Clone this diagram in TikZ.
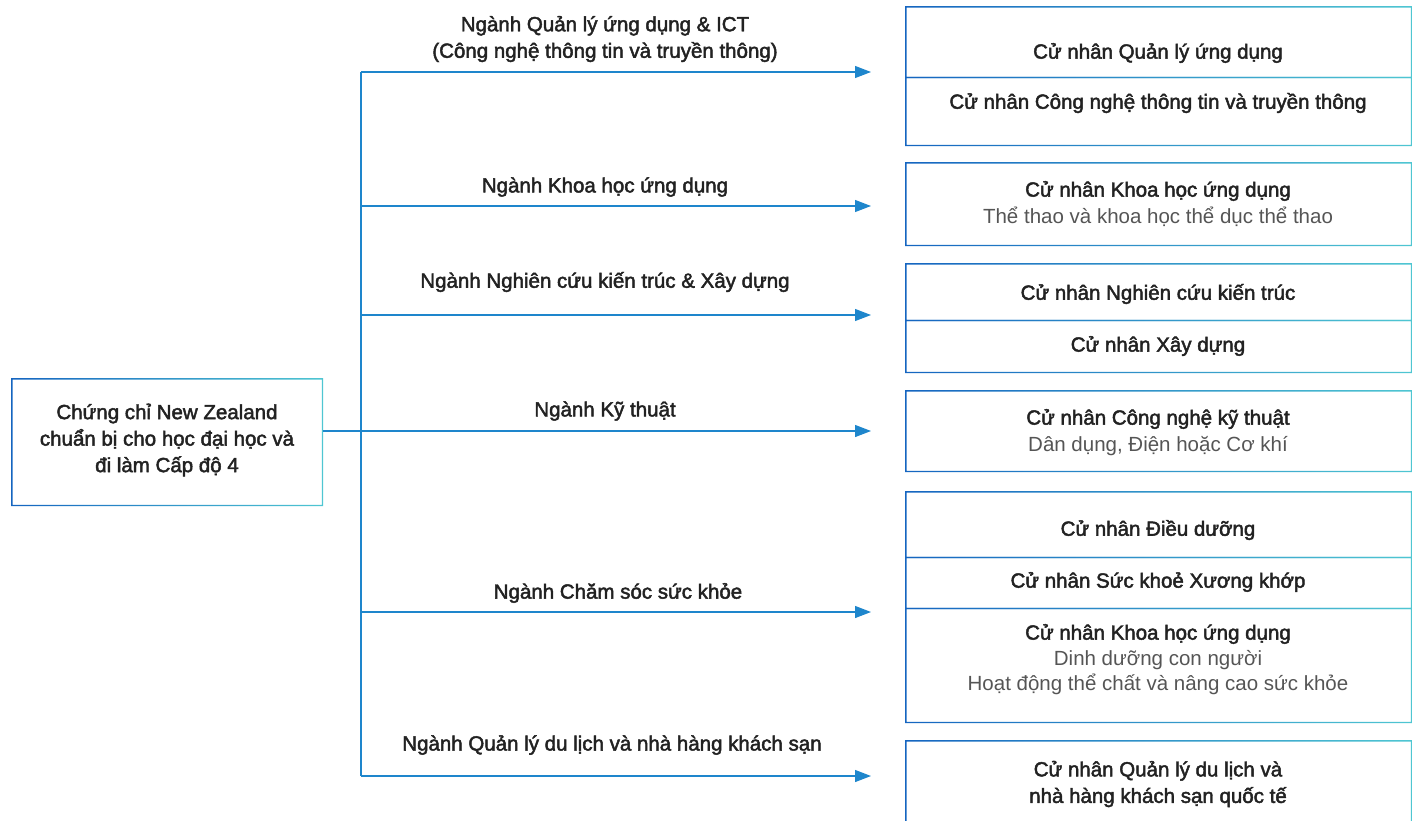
\documentclass[tikz,border=0pt]{standalone}
\usepackage{fontspec}
\setmainfont{Liberation Sans}
\newfontfamily\medfont{Liberation Sans}[FakeBold=2.2]
\usetikzlibrary{arrows.meta}
\definecolor{deepblue}{HTML}{1565C0}
\definecolor{aqua}{HTML}{4FC6D2}
\definecolor{linkblue}{HTML}{1E86CC}
\definecolor{ink}{HTML}{222222}
\definecolor{softink}{HTML}{555555}
\tikzset{
  ringbox/.style={anchor=north west, inner sep=0pt, draw=none,
    path picture={\shade[left color=deepblue, right color=aqua, even odd rule]
      (path picture bounding box.south west) rectangle (path picture bounding box.north east)
      ([shift={(1.3pt,1.3pt)}]path picture bounding box.south west)
      rectangle ([shift={(-1.3pt,-1.3pt)}]path picture bounding box.north east);}},
  title/.style={text=ink, align=center, inner sep=0pt, font=\medfont\fontsize{20.5}{26.5}\selectfont},
  subtitle/.style={text=softink, align=center, inner sep=0pt, font=\fontsize{20.5}{25.5}\selectfont},
  flow/.style={linkblue, line width=1.2pt, -{Triangle[length=16pt, width=12pt]}},
  trunk/.style={linkblue, line width=1.2pt}
}

\begin{document}
\begin{tikzpicture}[x=1pt, y=-1pt]
\clip (0,0) rectangle (1416,820);
% Start box
    \node[ringbox, minimum width=312pt, minimum height=128pt] (cert) at (11,378) {};
    \node[title] (certtext) at (167,440) {Chứng chỉ New Zealand\\chuẩn bị cho học đại học và\\đi làm Cấp độ 4};
% Trunk and branches
    \coordinate (hub) at (361,431);
    \foreach \y/\name in {72/ict, 206/sci, 315/arch, 431/eng, 612/health, 776/tour} {
        \coordinate (\name-start) at (361,\y);
        \coordinate (\name-end) at (871,\y);
        \draw[flow] (\name-start) -- (\name-end);
    }
    \draw[trunk] (ict-start) -- (tour-start);
    \draw[trunk] (cert.east |- hub) -- (hub);
% Branch labels
    \node[title] (ictlabel) at (605,39) {Ngành Quản lý ứng dụng \& ICT\\(Công nghệ thông tin và truyền thông)};
    \node[title] (scilabel) at (605,187) {Ngành Khoa học ứng dụng};
    \node[title] (archlabel) at (605,282) {Ngành Nghiên cứu kiến trúc \& Xây dựng};
    \node[title] (englabel) at (605,411) {Ngành Kỹ thuật};
    \node[title] (healthlabel) at (618,593) {Ngành Chăm sóc sức khỏe};
    \node[title] (tourlabel) at (612,745) {Ngành Quản lý du lịch và nhà hàng khách sạn};
% Degree boxes
    \node[ringbox, minimum width=507pt, minimum height=72pt] (ictbox1) at (905,6) {};
    \node[ringbox, minimum width=507pt, minimum height=69.3pt] (ictbox2) at (905,76.7) {};
    \node[ringbox, minimum width=507pt, minimum height=84pt] (scibox) at (905,162) {};
    \node[ringbox, minimum width=507pt, minimum height=58pt] (archbox1) at (905,263) {};
    \node[ringbox, minimum width=507pt, minimum height=53.3pt] (archbox2) at (905,319.7) {};
    \node[ringbox, minimum width=507pt, minimum height=82pt] (engbox) at (905,390) {};
    \node[ringbox, minimum width=507pt, minimum height=67pt] (healthbox1) at (905,491) {};
    \node[ringbox, minimum width=507pt, minimum height=52.3pt] (healthbox2) at (905,556.7) {};
    \node[ringbox, minimum width=507pt, minimum height=115.3pt] (healthbox3) at (905,607.7) {};
    \node[ringbox, minimum width=507pt, minimum height=110pt] (tourbox) at (905,740) {};
% Degree texts
    \node[title] (ict1) at (1158,53) {Cử nhân Quản lý ứng dụng};
    \node[title] (ict2) at (1158,103) {Cử nhân Công nghệ thông tin và truyền thông};
    \node[title] (sci1) at (1158,191) {Cử nhân Khoa học ứng dụng};
    \node[subtitle] (sci2) at (1158,217) {Thể thao và khoa học thể dục thể thao};
    \node[title] (arch1) at (1158,294) {Cử nhân Nghiên cứu kiến trúc};
    \node[title] (arch2) at (1158,346) {Cử nhân Xây dựng};
    \node[title] (eng1) at (1158,419) {Cử nhân Công nghệ kỹ thuật};
    \node[subtitle] (eng2) at (1158,446) {Dân dụng, Điện hoặc Cơ khí};
    \node[title] (health1) at (1158,530) {Cử nhân Điều dưỡng};
    \node[title] (health2) at (1158,582) {Cử nhân Sức khoẻ Xương khớp};
    \node[title] (health3) at (1158,634) {Cử nhân Khoa học ứng dụng};
    \node[subtitle] (health4) at (1158,672.5) {Dinh dưỡng con người\\Hoạt động thể chất và nâng cao sức khỏe};
    \node[title] (tour1) at (1158,784) {Cử nhân Quản lý du lịch và\\nhà hàng khách sạn quốc tế};
\end{tikzpicture}
\end{document}
